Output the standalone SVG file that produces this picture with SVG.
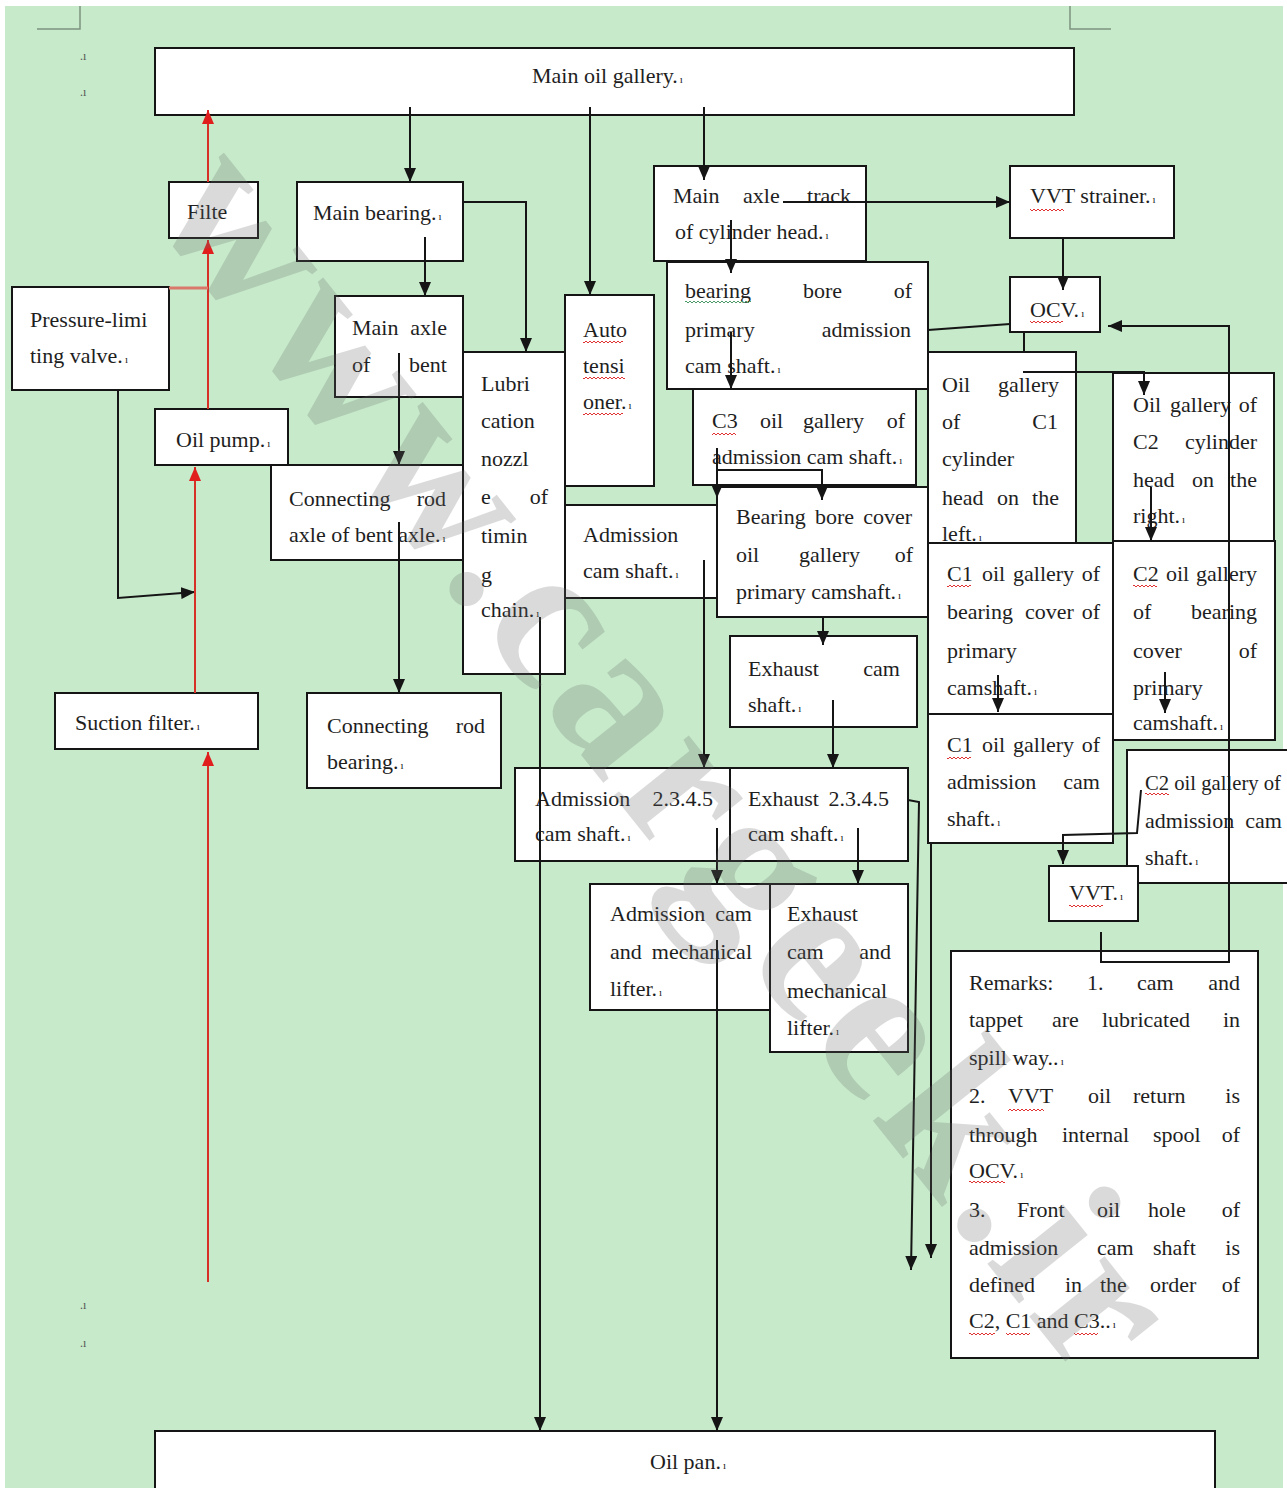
<svg xmlns="http://www.w3.org/2000/svg" width="1287" height="1488" viewBox="0 0 1287 1488">
<defs>
<style>
.bx{fill:#fff;stroke:#151515;stroke-width:2}
.t{font-family:"Liberation Serif","Times New Roman",serif;font-size:22px;fill:#1e1e1e}
.pm{font-size:11px}
.e{text-anchor:end}
.c{fill:none;stroke:#151515;stroke-width:2}
.ca{marker-end:url(#ah)}
.r{fill:none;stroke:#d63027;stroke-width:2;marker-end:url(#ahr)}
.sq{fill:url(#sqr)}
.sg{fill:url(#sqg)}
.mk{fill:none;stroke:#7e937f;stroke-width:1.5}
.wm{font-family:"Liberation Serif","Times New Roman",serif;font-weight:bold;font-size:210px;fill:#6a6a6a;opacity:.24}
.dot{font-family:"Liberation Serif",serif;font-size:12px;fill:#555}
</style>
<marker id="ah" viewBox="0 0 14 12" refX="14" refY="6" markerWidth="14" markerHeight="12" markerUnits="userSpaceOnUse" orient="auto"><path d="M0,0 L14,6 L0,12 z" fill="#151515"/></marker>
<marker id="ahr" viewBox="0 0 14 12" refX="14" refY="6" markerWidth="14" markerHeight="12" markerUnits="userSpaceOnUse" orient="auto"><path d="M0,0 L14,6 L0,12 z" fill="#e01e1e"/></marker>
<pattern id="sqr" width="4" height="4" patternUnits="userSpaceOnUse"><path d="M0,3 L2,1 L4,3" fill="none" stroke="#e03434" stroke-width="1"/></pattern>
<pattern id="sqg" width="4" height="4" patternUnits="userSpaceOnUse"><path d="M0,3 L2,1 L4,3" fill="none" stroke="#4c9a6a" stroke-width="1"/></pattern>
</defs>

<rect x="0" y="0" width="1287" height="1488" fill="#ffffff"/>
<rect x="5" y="6" width="1278" height="1482" fill="#c6eaca"/>
<path class="mk" d="M80,6 V29 H37"/>
<path class="mk" d="M1070,6 V29 H1111"/>
<text class="dot" x="80" y="60">.ı</text>
<text class="dot" x="80" y="96">.ı</text>
<text class="dot" x="80" y="1309">.ı</text>
<text class="dot" x="80" y="1347">.ı</text>

<g id="nodes">
<g id="n-main-gallery"><rect class="bx" x="155" y="48" width="919" height="67"/><text class="t" x="532" y="83">Main oil gallery.<tspan class="pm" dx="2">ı</tspan></text></g>
<g id="n-filte"><rect class="bx" x="169" y="182" width="89" height="56"/><text class="t" x="187" y="219">Filte</text></g>
<g id="n-main-bearing"><rect class="bx" x="297" y="182" width="166" height="79"/><text class="t" x="313" y="220">Main bearing.<tspan class="pm" dx="2">ı</tspan></text></g>
<g id="n-pressure-valve"><rect class="bx" x="12" y="287" width="157" height="103"/><text class="t" x="30" y="327">Pressure-limi</text><text class="t" x="30" y="363">ting valve.<tspan class="pm" dx="2">ı</tspan></text></g>
<g id="n-main-axle-bent"><rect class="bx" x="335" y="296" width="128" height="101"/><text class="t" y="335"><tspan x="352">Main</tspan> <tspan class="e" x="447">axle</tspan></text><text class="t" y="372"><tspan x="352">of</tspan> <tspan class="e" x="447">bent</tspan></text></g>
<g id="n-oil-pump"><rect class="bx" x="155" y="409" width="133" height="56"/><text class="t" x="176" y="447">Oil pump.<tspan class="pm" dx="2">ı</tspan></text></g>
<g id="n-conrod-axle"><rect class="bx" x="271" y="465" width="192" height="95"/><text class="t" y="506"><tspan x="289">Connecting</tspan> <tspan class="e" x="446">rod</tspan></text><text class="t" x="289" y="542">axle of bent axle.<tspan class="pm" dx="2">ı</tspan></text></g>
<g id="n-lubrication"><rect class="bx" x="463" y="352" width="102" height="322"/>
<text class="t" x="481" y="391">Lubri</text><text class="t" x="481" y="428">cation</text><text class="t" x="481" y="466">nozzl</text><text class="t" y="504"><tspan x="481">e</tspan> <tspan class="e" x="548">of</tspan></text><text class="t" x="481" y="543">timin</text><text class="t" x="481" y="582">g</text><text class="t" x="481" y="617">chain.<tspan class="pm" dx="2">ı</tspan></text></g>
<g id="n-auto-tensioner"><rect class="bx" x="565" y="295" width="89" height="191"/><text class="t" x="583" y="337">Auto</text><text class="t" x="583" y="373">tensi</text><text class="t" x="583" y="409">oner.<tspan class="pm" dx="2">ı</tspan></text>
<rect class="sq" x="583" y="340" width="40" height="4"/><rect class="sq" x="583" y="376" width="42" height="4"/><rect class="sq" x="583" y="412" width="40" height="4"/></g>
<g id="n-main-axle-track"><rect class="bx" x="654" y="166" width="212" height="95"/><text class="t" y="203"><tspan x="673">Main</tspan> <tspan x="743">axle</tspan> <tspan class="e" x="851">track</tspan></text><text class="t" x="675" y="239">of cylinder head.<tspan class="pm" dx="2">ı</tspan></text></g>
<g id="n-vvt-strainer"><rect class="bx" x="1010" y="166" width="164" height="72"/><text class="t" x="1030" y="203">VVT strainer.<tspan class="pm" dx="2">ı</tspan></text><rect class="sq" x="1030" y="208" width="34" height="4"/></g>
<g id="n-bearing-bore"><rect class="bx" x="667" y="262" width="261" height="127"/><text class="t" y="298"><tspan x="685">bearing</tspan> <tspan x="803">bore</tspan> <tspan class="e" x="912">of</tspan></text><text class="t" y="337"><tspan x="685">primary</tspan> <tspan class="e" x="911">admission</tspan></text><text class="t" x="685" y="373">cam shaft.<tspan class="pm" dx="2">ı</tspan></text><rect class="sg" x="685" y="300" width="66" height="4"/></g>
<g id="n-ocv"><rect class="bx" x="1010" y="277" width="90" height="55"/><text class="t" x="1030" y="317">OCV.<tspan class="pm" dx="2">ı</tspan></text><rect class="sq" x="1030" y="320" width="33" height="4"/></g>
<g id="n-c3"><rect class="bx" x="693" y="389" width="223" height="96"/><text class="t" y="428"><tspan x="712">C3</tspan> <tspan x="760">oil</tspan> <tspan x="803">gallery</tspan> <tspan class="e" x="905">of</tspan></text><text class="t" x="712" y="464">admission cam shaft.<tspan class="pm" dx="2">ı</tspan></text><rect class="sq" x="712" y="432" width="24" height="4"/></g>
<g id="n-c1-head"><rect class="bx" x="928" y="352" width="148" height="193"/><text class="t" y="392"><tspan x="942">Oil</tspan> <tspan class="e" x="1059">gallery</tspan></text><text class="t" y="429"><tspan x="942">of</tspan> <tspan class="e" x="1058">C1</tspan></text><text class="t" x="942" y="466">cylinder</text><text class="t" y="505"><tspan x="942">head</tspan> <tspan x="997">on</tspan> <tspan class="e" x="1059">the</tspan></text><text class="t" x="942" y="541">left.<tspan class="pm" dx="2">ı</tspan></text></g>
<g id="n-c2-head"><rect class="bx" x="1113" y="373" width="161" height="170"/><text class="t" y="412"><tspan x="1133">Oil</tspan> <tspan x="1170">gallery</tspan> <tspan class="e" x="1257">of</tspan></text><text class="t" y="449"><tspan x="1133">C2</tspan> <tspan class="e" x="1257">cylinder</tspan></text><text class="t" y="487"><tspan x="1133">head</tspan> <tspan x="1192">on</tspan> <tspan class="e" x="1257">the</tspan></text><text class="t" x="1133" y="523">right.<tspan class="pm" dx="2">ı</tspan></text></g>
<g id="n-admission-cam"><rect class="bx" x="565" y="505" width="152" height="93"/><text class="t" x="583" y="542">Admission</text><text class="t" x="583" y="578">cam shaft.<tspan class="pm" dx="2">ı</tspan></text></g>
<g id="n-bearing-cover"><rect class="bx" x="717" y="487" width="211" height="130"/><text class="t" y="524"><tspan x="736">Bearing</tspan> <tspan x="815">bore</tspan> <tspan class="e" x="912">cover</tspan></text><text class="t" y="562"><tspan x="736">oil</tspan> <tspan x="799">gallery</tspan> <tspan class="e" x="913">of</tspan></text><text class="t" x="736" y="599">primary camshaft.<tspan class="pm" dx="2">ı</tspan></text></g>
<g id="n-c1-cover"><rect class="bx" x="928" y="543" width="185" height="171"/><text class="t" y="581"><tspan x="947">C1</tspan> <tspan x="982">oil</tspan> <tspan x="1013">gallery</tspan> <tspan class="e" x="1100">of</tspan></text><text class="t" y="619"><tspan x="947">bearing</tspan> <tspan x="1025">cover</tspan> <tspan class="e" x="1100">of</tspan></text><text class="t" x="947" y="658">primary</text><text class="t" x="947" y="695">camshaft.<tspan class="pm" dx="2">ı</tspan></text><rect class="sq" x="947" y="584" width="24" height="4"/></g>
<g id="n-c2-cover"><rect class="bx" x="1113" y="541" width="162" height="199"/><text class="t" y="581"><tspan x="1133">C2</tspan> <tspan x="1166">oil</tspan> <tspan class="e" x="1257">gallery</tspan></text><text class="t" y="619"><tspan x="1133">of</tspan> <tspan class="e" x="1257">bearing</tspan></text><text class="t" y="658"><tspan x="1133">cover</tspan> <tspan class="e" x="1257">of</tspan></text><text class="t" x="1133" y="695">primary</text><text class="t" x="1133" y="730">camshaft.<tspan class="pm" dx="2">ı</tspan></text><rect class="sq" x="1133" y="584" width="24" height="4"/></g>
<g id="n-exhaust-cam"><rect class="bx" x="730" y="636" width="187" height="91"/><text class="t" y="676"><tspan x="748">Exhaust</tspan> <tspan class="e" x="900">cam</tspan></text><text class="t" x="748" y="712">shaft.<tspan class="pm" dx="2">ı</tspan></text></g>
<g id="n-c1-admission"><rect class="bx" x="928" y="714" width="185" height="129"/><text class="t" y="752"><tspan x="947">C1</tspan> <tspan x="982">oil</tspan> <tspan x="1013">gallery</tspan> <tspan class="e" x="1100">of</tspan></text><text class="t" y="789"><tspan x="947">admission</tspan> <tspan class="e" x="1100">cam</tspan></text><text class="t" x="947" y="826">shaft.<tspan class="pm" dx="2">ı</tspan></text><rect class="sq" x="947" y="756" width="24" height="4"/></g>
<g id="n-c2-admission"><rect class="bx" x="1127" y="750" width="175" height="133"/><text class="t" x="1145" y="790" textLength="136" lengthAdjust="spacingAndGlyphs">C2 oil gallery of</text><text class="t" y="828"><tspan x="1145">admission</tspan> <tspan class="e" x="1282">cam</tspan></text><text class="t" x="1145" y="865">shaft.<tspan class="pm" dx="2">ı</tspan></text><rect class="sq" x="1145" y="792" width="24" height="4"/></g>
<g id="n-vvt"><rect class="bx" x="1049" y="866" width="89" height="55"/><text class="t" x="1069" y="900">VVT.<tspan class="pm" dx="2">ı</tspan></text><rect class="sq" x="1069" y="904" width="34" height="4"/></g>
<g id="n-conrod-bearing"><rect class="bx" x="307" y="693" width="194" height="95"/><text class="t" y="733"><tspan x="327">Connecting</tspan> <tspan class="e" x="485">rod</tspan></text><text class="t" x="327" y="769">bearing.<tspan class="pm" dx="2">ı</tspan></text></g>
<g id="n-suction-filter"><rect class="bx" x="55" y="693" width="203" height="56"/><text class="t" x="75" y="730">Suction filter.<tspan class="pm" dx="2">ı</tspan></text></g>
<g id="n-admission-2345"><rect class="bx" x="515" y="768" width="215" height="93"/><text class="t" y="806"><tspan x="535">Admission</tspan> <tspan class="e" x="713">2.3.4.5</tspan></text><text class="t" x="535" y="841">cam shaft.<tspan class="pm" dx="2">ı</tspan></text></g>
<g id="n-exhaust-2345"><rect class="bx" x="730" y="768" width="178" height="93"/><text class="t" y="806"><tspan x="748">Exhaust</tspan> <tspan class="e" x="889">2.3.4.5</tspan></text><text class="t" x="748" y="841">cam shaft.<tspan class="pm" dx="2">ı</tspan></text></g>
<g id="n-admission-lifter"><rect class="bx" x="590" y="884" width="180" height="126"/><text class="t" y="921"><tspan x="610">Admission</tspan> <tspan class="e" x="752">cam</tspan></text><text class="t" y="959"><tspan x="610">and</tspan> <tspan class="e" x="752">mechanical</tspan></text><text class="t" x="610" y="996">lifter.<tspan class="pm" dx="2">ı</tspan></text></g>
<g id="n-exhaust-lifter"><rect class="bx" x="770" y="884" width="138" height="168"/><text class="t" x="787" y="921">Exhaust</text><text class="t" y="959"><tspan x="787">cam</tspan> <tspan class="e" x="891">and</tspan></text><text class="t" x="787" y="998">mechanical</text><text class="t" x="787" y="1035">lifter.<tspan class="pm" dx="2">ı</tspan></text></g>
<g id="n-remarks"><rect class="bx" x="951" y="951" width="307" height="407"/>
<text class="t" y="990"><tspan x="969">Remarks:</tspan> <tspan x="1087">1.</tspan> <tspan x="1137">cam</tspan> <tspan class="e" x="1240">and</tspan></text>
<text class="t" y="1027"><tspan x="969">tappet</tspan> <tspan x="1052">are</tspan> <tspan x="1102">lubricated</tspan> <tspan class="e" x="1240">in</tspan></text>
<text class="t" x="969" y="1065">spill way..<tspan class="pm" dx="2">ı</tspan></text>
<text class="t" y="1103"><tspan x="969">2.</tspan> <tspan x="1008">VVT</tspan> <tspan x="1088">oil</tspan> <tspan x="1133">return</tspan> <tspan class="e" x="1240">is</tspan></text>
<text class="t" y="1142"><tspan x="969">through</tspan> <tspan x="1062">internal</tspan> <tspan x="1153">spool</tspan> <tspan class="e" x="1240">of</tspan></text>
<text class="t" x="969" y="1178">OCV.<tspan class="pm" dx="2">ı</tspan></text>
<text class="t" y="1217"><tspan x="969">3.</tspan> <tspan x="1017">Front</tspan> <tspan x="1097">oil</tspan> <tspan x="1148">hole</tspan> <tspan class="e" x="1240">of</tspan></text>
<text class="t" y="1255"><tspan x="969">admission</tspan> <tspan x="1097">cam</tspan> <tspan x="1153">shaft</tspan> <tspan class="e" x="1240">is</tspan></text>
<text class="t" y="1292"><tspan x="969">defined</tspan> <tspan x="1065">in</tspan> <tspan x="1100">the</tspan> <tspan x="1150">order</tspan> <tspan class="e" x="1240">of</tspan></text>
<text class="t" x="969" y="1328">C2, C1 and C3..<tspan class="pm" dx="2">ı</tspan></text>
<rect class="sq" x="1008" y="1108" width="36" height="4"/><rect class="sq" x="969" y="1180" width="36" height="4"/><rect class="sq" x="969" y="1332" width="26" height="4"/><rect class="sq" x="1006" y="1332" width="24" height="4"/><rect class="sq" x="1074" y="1332" width="24" height="4"/></g>
<g id="n-oil-pan"><rect class="bx" x="155" y="1431" width="1060" height="70"/><text class="t" x="650" y="1469">Oil pan.<tspan class="pm" dx="2">ı</tspan></text></g>
</g>

<g id="connectors">
<path class="c ca" d="M410,107 V182"/>
<path class="c ca" d="M425,237 V296"/>
<path class="c ca" d="M399,353 V465"/>
<path class="c ca" d="M399,522 V693"/>
<path class="c ca" d="M463,202 H526 V352"/>
<path class="c ca" d="M590,107 V295"/>
<path class="c ca" d="M704,107 V180"/>
<path class="c ca" d="M783,202 H1010"/>
<path class="c ca" d="M731,220 V273"/>
<path class="c ca" d="M731,332 V389"/>
<path class="c ca" d="M1063,238 V290"/>
<path class="c" d="M928,330 L1010,324"/>
<path class="c" d="M1024,333 V352"/>
<path class="c ca" d="M1023,372 H1144 V395"/>
<path class="c ca" d="M1101,932 V962 H1229 V326 H1108"/>
<path class="c ca" d="M717,448 V498"/>
<path class="c ca" d="M717,470 H822 V500"/>
<path class="c ca" d="M823,617 V645"/>
<path class="c ca" d="M833,700 V768"/>
<path class="c ca" d="M704,560 V768"/>
<path class="c ca" d="M717,828 V884"/>
<path class="c ca" d="M858,828 V884"/>
<path class="c ca" d="M717,940 V1431"/>
<path class="c ca" d="M540,617 V1431"/>
<path class="c ca" d="M908,800 L919,802 L911,1270"/>
<path class="c ca" d="M931,843 V1258"/>
<path class="c ca" d="M1151,487 V541"/>
<path class="c ca" d="M1165,672 V713"/>
<path class="c ca" d="M998,675 V712"/>
<path class="c ca" d="M1141,790 L1137,833 L1063,835 V864"/>
<path class="c ca" d="M118,390 V598 L195,592"/>
<path class="r" d="M208,409 V240"/>
<path class="r" d="M208,182 V110"/>
<path class="r" d="M195,693 V467"/>
<path class="r" d="M208,1282 V752"/>
<path d="M169,288 H208" fill="none" stroke="#d9786b" stroke-width="3"/>
</g>

<text class="wm" transform="translate(652,770) rotate(51.4)" x="0" y="46" text-anchor="middle" textLength="1500" lengthAdjust="spacing">www.cargeek.ir</text>
</svg>
